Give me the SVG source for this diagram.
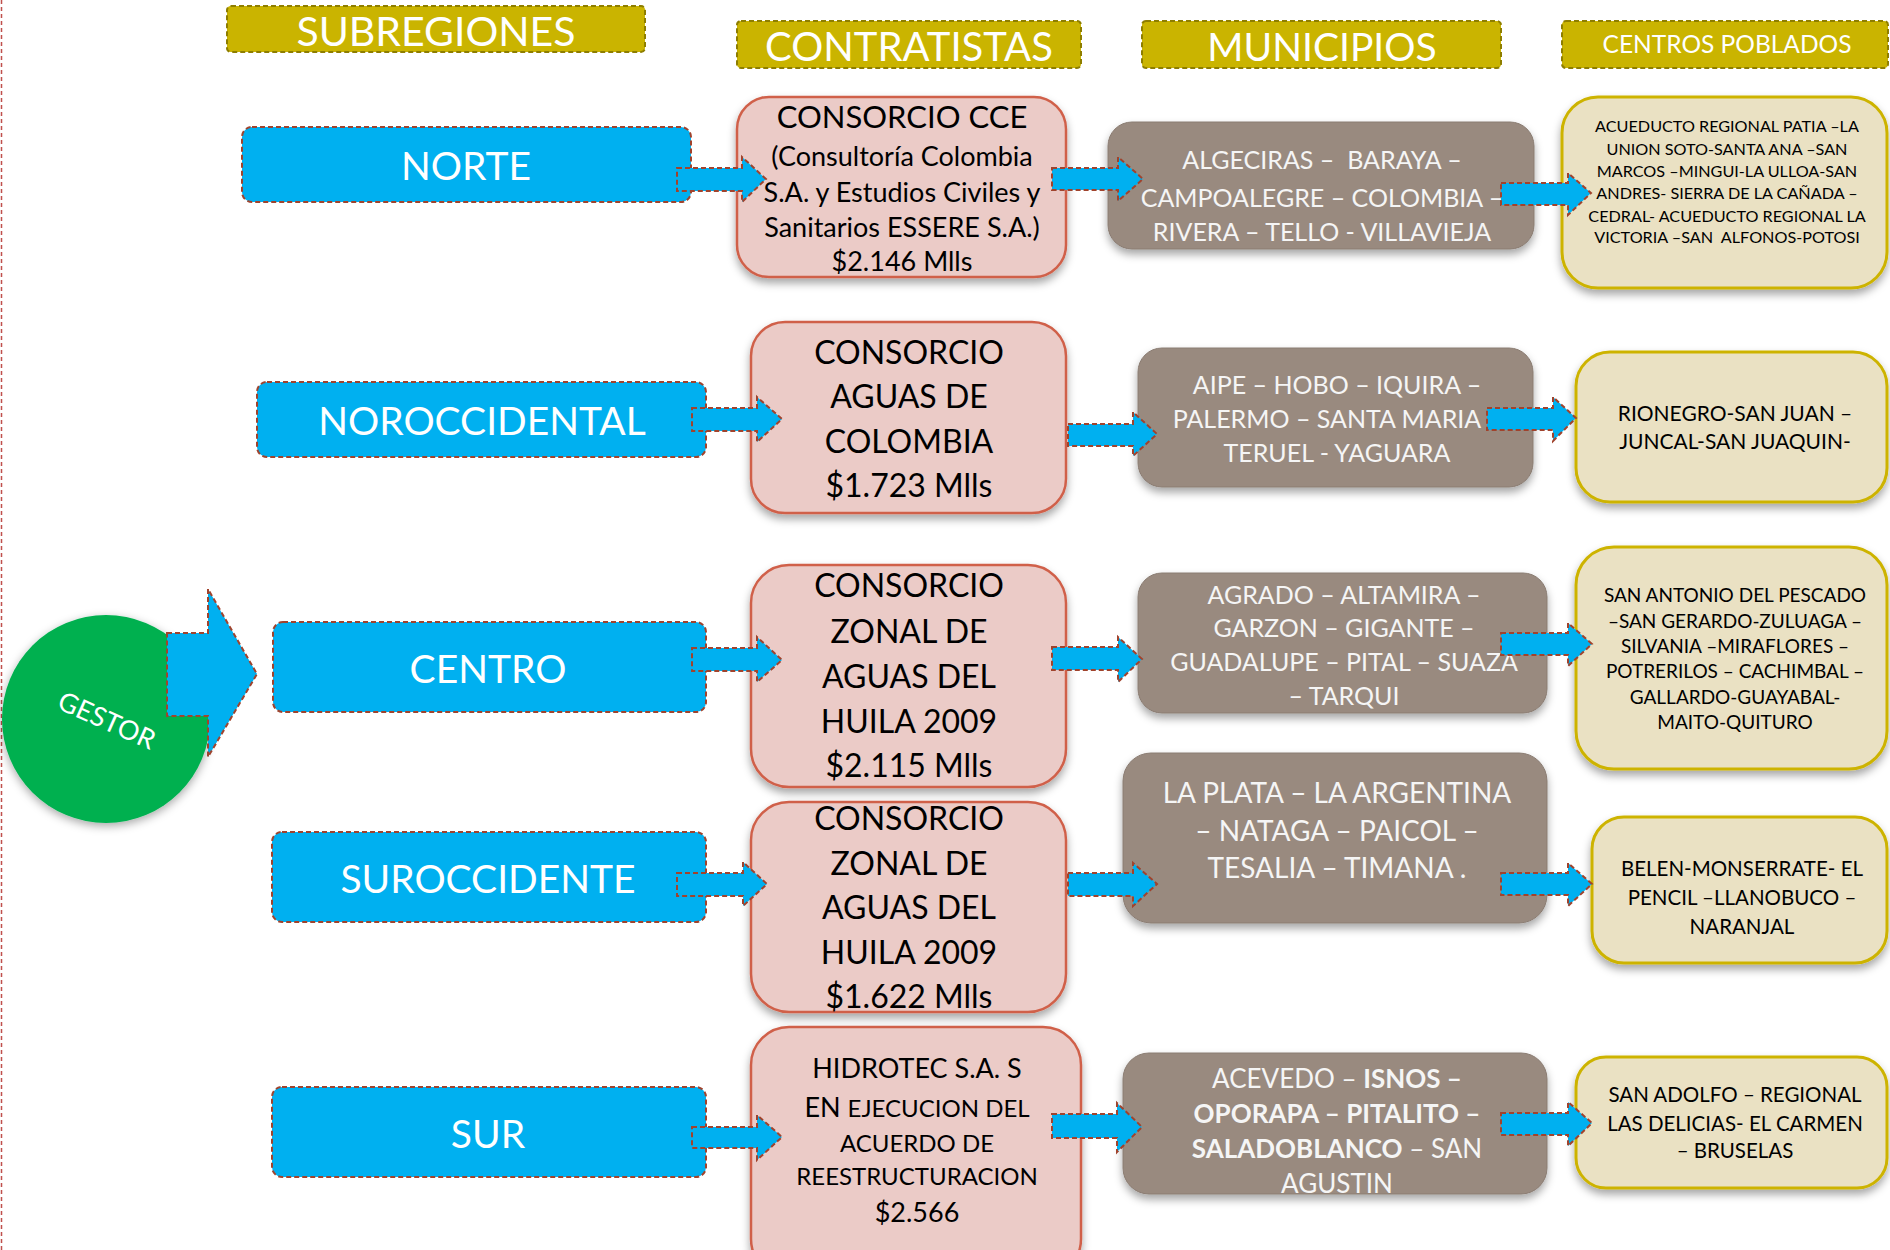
<svg xmlns="http://www.w3.org/2000/svg" width="1890" height="1250" viewBox="0 0 1890 1250">
<defs>
<filter id="sh" x="-10%" y="-10%" width="125%" height="130%">
<feDropShadow dx="0" dy="5" stdDeviation="4" flood-color="#000" flood-opacity="0.35"/>
</filter>
<filter id="shc" x="-15%" y="-15%" width="135%" height="135%">
<feDropShadow dx="0" dy="3" stdDeviation="5" flood-color="#000" flood-opacity="0.35"/>
</filter>
<style>
text{font-family:Lato,"Liberation Sans",sans-serif;text-anchor:middle}
.hdr{fill:#CAB400;stroke:#8E7E00;stroke-width:2;stroke-dasharray:5,3}
.htx{fill:#FFFFFF}
.blue{fill:#00B0F0;stroke:#A0432D;stroke-width:2;stroke-dasharray:5,3}
.btx{fill:#FFFFFF;font-size:39px}
.pink{fill:#EBCBC7;stroke:#D0604A;stroke-width:2.5;filter:url(#sh)}
.ptx{fill:#000000}
.brown{fill:#998A7F;stroke:#8A7C72;stroke-width:1;filter:url(#sh)}
.brtx{fill:#F5F5F5}
.yel{fill:#EAE1C3;stroke:#CDB300;stroke-width:3;filter:url(#sh)}
.ytx{fill:#000000}
.arr{fill:#00B0F0;stroke:#A0432D;stroke-width:2;stroke-dasharray:5,3;stroke-linejoin:miter}
.b{font-weight:bold}
</style>
</defs>
<rect width="1890" height="1250" fill="#FFFFFF"/>
<line x1="1.5" y1="0" x2="1.5" y2="1250" stroke="#C0504D" stroke-width="1.5" stroke-dasharray="4,3"/>

<g id="headers">
<g id="h-subregiones"><rect class="hdr" x="227" y="6" width="418" height="46" rx="4"/><text class="htx" x="436" y="46" font-size="41">SUBREGIONES</text></g>
<g id="h-contratistas"><rect class="hdr" x="737" y="21" width="344" height="47" rx="4"/><text class="htx" x="909" y="61" font-size="40">CONTRATISTAS</text></g>
<g id="h-municipios"><rect class="hdr" x="1142" y="21" width="359" height="47" rx="4"/><text class="htx" x="1322" y="61" font-size="39">MUNICIPIOS</text></g>
<g id="h-centros"><rect class="hdr" x="1562" y="21" width="326" height="47" rx="4"/><text class="htx" x="1727" y="53" font-size="24.5">CENTROS POBLADOS</text></g>
</g>

<g id="gestor">
<circle cx="106" cy="719" r="104" fill="#00B050" filter="url(#shc)"/>
<text x="0" y="0" font-size="27" fill="#FFFFFF" transform="translate(103,729) rotate(24)">GESTOR</text>
<polygon class="arr" points="167,633 208,633 208,589 257,674 208,757 208,716 167,716"/>
</g>

<g id="subregiones">
<g id="norte"><rect class="blue" x="242" y="127" width="449" height="75" rx="10"/><text class="btx" x="466" y="180">NORTE</text></g>
<g id="noroccidental"><rect class="blue" x="257" y="382" width="449" height="75" rx="10"/><text class="btx" x="482" y="435">NOROCCIDENTAL</text></g>
<g id="centro"><rect class="blue" x="273" y="622" width="433" height="90" rx="10"/><text class="btx" x="488" y="683">CENTRO</text></g>
<g id="suroccidente"><rect class="blue" x="272" y="832" width="434" height="90" rx="10"/><text class="btx" x="488" y="893">SUROCCIDENTE</text></g>
<g id="sur"><rect class="blue" x="272" y="1087" width="434" height="90" rx="10"/><text class="btx" x="488" y="1148">SUR</text></g>
</g>

<g id="contratistas">
<g id="c-cce"><rect class="pink" x="737" y="97" width="329" height="180" rx="32"/>
<text class="ptx" x="902" y="128" font-size="31">CONSORCIO CCE</text>
<text class="ptx" x="902" y="166" font-size="27">(Consultoría Colombia</text>
<text class="ptx" x="902" y="202" font-size="27">S.A. y Estudios Civiles y</text>
<text class="ptx" x="902" y="237" font-size="27">Sanitarios ESSERE S.A.)</text>
<text class="ptx" x="902" y="271" font-size="27">$2.146 Mlls</text></g>
<g id="c-aguas-colombia"><rect class="pink" x="751" y="322" width="315" height="191" rx="34"/>
<text class="ptx" x="909" y="364" font-size="32">CONSORCIO</text>
<text class="ptx" x="909" y="408" font-size="32">AGUAS DE</text>
<text class="ptx" x="909" y="453" font-size="32">COLOMBIA</text>
<text class="ptx" x="909" y="497" font-size="32">$1.723 Mlls</text></g>
<g id="c-zonal-centro"><rect class="pink" x="751" y="565" width="315" height="222" rx="38"/>
<text class="ptx" x="909" y="597" font-size="32">CONSORCIO</text>
<text class="ptx" x="909" y="643" font-size="32">ZONAL DE</text>
<text class="ptx" x="909" y="688" font-size="32">AGUAS DEL</text>
<text class="ptx" x="909" y="733" font-size="32">HUILA 2009</text>
<text class="ptx" x="909" y="777" font-size="32">$2.115 Mlls</text></g>
<g id="c-zonal-suroccidente"><rect class="pink" x="751" y="802" width="315" height="210" rx="38"/>
<text class="ptx" x="909" y="830" font-size="32">CONSORCIO</text>
<text class="ptx" x="909" y="875" font-size="32">ZONAL DE</text>
<text class="ptx" x="909" y="919" font-size="32">AGUAS DEL</text>
<text class="ptx" x="909" y="964" font-size="32">HUILA 2009</text>
<text class="ptx" x="909" y="1008" font-size="32">$1.622 Mlls</text></g>
<g id="c-hidrotec"><rect class="pink" x="751" y="1027" width="330" height="250" rx="38"/>
<text class="ptx" x="917" y="1078" font-size="27">HIDROTEC S.A. S</text>
<text class="ptx" x="917" y="1117" font-size="27">EN <tspan font-size="24">EJECUCION DEL</tspan></text>
<text class="ptx" x="917" y="1152" font-size="24">ACUERDO DE</text>
<text class="ptx" x="917" y="1185" font-size="24">REESTRUCTURACION</text>
<text class="ptx" x="917" y="1222" font-size="27">$2.566</text></g>
</g>

<g id="municipios">
<g id="m-norte"><rect class="brown" x="1108" y="122" width="426" height="127" rx="24"/>
<text class="brtx" x="1322" y="169" font-size="25" xml:space="preserve">ALGECIRAS –  BARAYA –</text>
<text class="brtx" x="1322" y="207" font-size="25">CAMPOALEGRE – COLOMBIA –</text>
<text class="brtx" x="1322" y="241" font-size="25">RIVERA – TELLO - VILLAVIEJA</text></g>
<g id="m-noroccidental"><rect class="brown" x="1138" y="348" width="395" height="139" rx="24"/>
<text class="brtx" x="1337" y="394" font-size="25">AIPE – HOBO – IQUIRA –</text>
<text class="brtx" x="1337" y="428" font-size="25">PALERMO – SANTA MARIA –</text>
<text class="brtx" x="1337" y="462" font-size="25">TERUEL - YAGUARA</text></g>
<g id="m-centro"><rect class="brown" x="1138" y="573" width="409" height="140" rx="24"/>
<text class="brtx" x="1344" y="604" font-size="25">AGRADO – ALTAMIRA –</text>
<text class="brtx" x="1344" y="637" font-size="25">GARZON – GIGANTE –</text>
<text class="brtx" x="1344" y="671" font-size="25">GUADALUPE – PITAL – SUAZA</text>
<text class="brtx" x="1344" y="705" font-size="25">– TARQUI</text></g>
<g id="m-suroccidente"><rect class="brown" x="1123" y="753" width="424" height="170" rx="28"/>
<text class="brtx" x="1337" y="803" font-size="28">LA PLATA – LA ARGENTINA</text>
<text class="brtx" x="1337" y="841" font-size="28">– NATAGA – PAICOL –</text>
<text class="brtx" x="1337" y="878" font-size="28">TESALIA – TIMANA .</text></g>
<g id="m-sur"><rect class="brown" x="1123" y="1053" width="424" height="141" rx="26"/>
<text class="brtx" x="1337" y="1088" font-size="26">ACEVEDO – <tspan class="b">ISNOS –</tspan></text>
<text class="brtx b" x="1337" y="1123" font-size="26">OPORAPA – PITALITO –</text>
<text class="brtx" x="1337" y="1158" font-size="26"><tspan class="b">SALADOBLANCO</tspan> – SAN</text>
<text class="brtx" x="1337" y="1193" font-size="26">AGUSTIN</text></g>
</g>

<g id="centros-poblados">
<g id="cp-norte"><rect class="yel" x="1562" y="97" width="325" height="191" rx="36"/>
<text class="ytx" x="1727" y="132" font-size="16.2">ACUEDUCTO REGIONAL PATIA –LA</text>
<text class="ytx" x="1727" y="155" font-size="16.2">UNION SOTO-SANTA ANA –SAN</text>
<text class="ytx" x="1727" y="177" font-size="16.2">MARCOS –MINGUI-LA ULLOA-SAN</text>
<text class="ytx" x="1727" y="199" font-size="16.2">ANDRES- SIERRA DE LA CAÑADA –</text>
<text class="ytx" x="1727" y="222" font-size="16.2">CEDRAL- ACUEDUCTO REGIONAL LA</text>
<text class="ytx" x="1727" y="243" font-size="16.2" xml:space="preserve">VICTORIA –SAN  ALFONOS-POTOSI</text></g>
<g id="cp-noroccidental"><rect class="yel" x="1576" y="352" width="311" height="150" rx="34"/>
<text class="ytx" x="1735" y="421" font-size="21">RIONEGRO-SAN JUAN –</text>
<text class="ytx" x="1735" y="449" font-size="21">JUNCAL-SAN JUAQUIN-</text></g>
<g id="cp-centro"><rect class="yel" x="1576" y="547" width="311" height="222" rx="38"/>
<text class="ytx" x="1735" y="602" font-size="19">SAN ANTONIO DEL PESCADO</text>
<text class="ytx" x="1735" y="628" font-size="19">–SAN GERARDO-ZULUAGA –</text>
<text class="ytx" x="1735" y="653" font-size="19">SILVANIA –MIRAFLORES –</text>
<text class="ytx" x="1735" y="678" font-size="19">POTRERILOS – CACHIMBAL –</text>
<text class="ytx" x="1735" y="704" font-size="19">GALLARDO-GUAYABAL-</text>
<text class="ytx" x="1735" y="729" font-size="19">MAITO-QUITURO</text></g>
<g id="cp-suroccidente"><rect class="yel" x="1592" y="817" width="295" height="146" rx="32"/>
<text class="ytx" x="1742" y="876" font-size="20.5">BELEN-MONSERRATE- EL</text>
<text class="ytx" x="1742" y="905" font-size="20.5">PENCIL –LLANOBUCO –</text>
<text class="ytx" x="1742" y="934" font-size="20.5">NARANJAL</text></g>
<g id="cp-sur"><rect class="yel" x="1576" y="1057" width="311" height="131" rx="30"/>
<text class="ytx" x="1735" y="1102" font-size="20.5">SAN ADOLFO – REGIONAL</text>
<text class="ytx" x="1735" y="1131" font-size="20.5">LAS DELICIAS- EL CARMEN</text>
<text class="ytx" x="1735" y="1158" font-size="20.5">– BRUSELAS</text></g>
</g>

<g id="connectors">
<polygon class="arr" points="677,168 742,168 742,157 766,179 742,202 742,191 677,191"/>
<polygon class="arr" points="1052,168 1118,168 1118,157 1143,179 1118,201 1118,190 1052,190"/>
<polygon class="arr" points="1501,183 1568,183 1568,173 1591,193 1568,215 1568,205 1501,205"/>
<polygon class="arr" points="692,408 757,408 757,397 782,419 757,442 757,431 692,431"/>
<polygon class="arr" points="1068,424 1133,424 1133,412 1157,434 1133,456 1133,446 1068,446"/>
<polygon class="arr" points="1487,408 1553,408 1553,397 1576,418 1553,441 1553,430 1487,430"/>
<polygon class="arr" points="692,648 757,648 757,637 782,660 757,682 757,671 692,671"/>
<polygon class="arr" points="1052,647 1118,647 1118,637 1142,659 1118,682 1118,670 1052,670"/>
<polygon class="arr" points="1501,633 1568,633 1568,623 1592,644 1568,666 1568,655 1501,655"/>
<polygon class="arr" points="677,873 743,873 743,862 767,884 743,906 743,896 677,896"/>
<polygon class="arr" points="1068,873 1133,873 1133,863 1157,884 1133,906 1133,896 1068,896"/>
<polygon class="arr" points="1501,873 1568,873 1568,863 1592,884 1568,906 1568,895 1501,895"/>
<polygon class="arr" points="692,1127 757,1127 757,1115 782,1137 757,1160 757,1148 692,1148"/>
<polygon class="arr" points="1052,1114 1117,1114 1117,1103 1142,1127 1117,1152 1117,1138 1052,1138"/>
<polygon class="arr" points="1501,1113 1568,1113 1568,1102 1592,1123 1568,1146 1568,1135 1501,1135"/>
</g>
</svg>
